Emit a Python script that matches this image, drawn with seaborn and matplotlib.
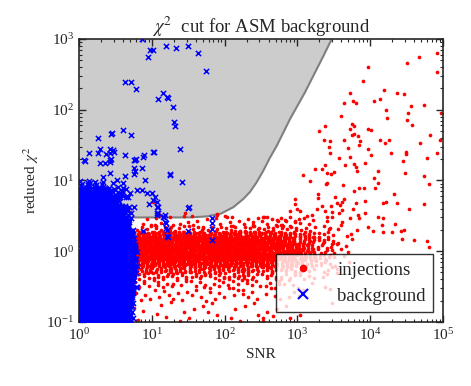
import numpy as np
import pandas as pd
import matplotlib
matplotlib.use('Agg')
import matplotlib.pyplot as plt
import seaborn as sns
from matplotlib.lines import Line2D

# chi^2 cut boundary
cut_snr = [1, 33, 56, 89, 132, 181, 223, 276, 340, 419, 520, 791, 1260, 2270, 2960]
cut_chi2 = [3.0, 3.0, 3.1, 3.4, 4.2, 5.5, 6.9, 9.5, 13.8, 21, 31, 74, 174, 575, 1000]

# background: isolated crosses
bg_snr = [7.3, 9.4, 10.5, 8.7, 15.8, 21.7, 31.8, 43.6, 55.6, 4.28, 5.23, 6.13, 14.3, 12.3, 16.0, 16.7,
          19.8, 20.0, 21.0, 1.8, 2.87, 2.78, 4.06, 5.1, 24.4, 1.37, 1.94, 1.82, 2.32, 2.67, 2.93, 2.99,
          4.28, 7.9, 10.7, 5.75, 6.13, 1.2, 1.94, 2.78, 2.64,
          17.8, 26.3, 8.1, 4.28, 5.9, 5.75, 10.0, 11.0, 11.7, 12.3, 11.9, 14.4, 15.2, 15.5, 31.8,
          66.5, 66.5, 66.5, 9.2, 32.4, 11.7, 15.2, 14.8, 15.7, 15.9, 15.9, 16.9, 7.6, 31.8, 67.9,
          2.67, 3.3, 4.06, 5.0, 6.2, 7.26, 8.5, 10.5, 11.7, 12.3, 5.6, 4.75, 3.66, 2.96, 2.16, 1.42,
          1.15, 2.28, 2.67, 2.67, 5.9, 7.6, 10.5, 17.8, 5.6, 7.26]
bg_chi2 = [990, 700, 700, 551, 796, 753, 805, 641, 349, 244, 244, 195, 171, 142, 153, 147,
           110, 67, 59, 40, 47, 45, 52, 44, 27.6, 24.7, 27.6, 24.7, 23.4, 28.1, 27, 25,
           22.7, 22.9, 25, 19.7, 20.3, 18.7, 17.5, 20, 18.2,
           12.4, 9.6, 10.2, 11.6, 13.8, 12.4, 6.6, 5.9, 5.0, 4.27, 3.44, 3.08, 2.62, 2.11, 4.12,
           2.98, 2.48, 2.07, 4.66, 4.18, 3.25, 3.25, 3.02, 2.54, 2.0, 1.64, 1.61, 1.93, 1.93, 1.44,
           12.6, 10.2, 9.1, 6.6, 7.3, 7.3, 6.6, 5.3, 4.27, 3.44, 4.27, 5.9, 5.9, 9.1, 11.3, 9.1,
           19.5, 17.5, 19.5, 24.2, 19.5, 21.7, 25.5, 12.0, 14.9, 14.9]

# background: dense block, (snr_lo, snr_hi, chi2_lo, chi2_hi, count)
bg_cells = [
    (1, 4.9, 0.10, 0.15, 170), (1, 5.3, 0.15, 0.25, 220), (1, 5.6, 0.25, 0.4, 210),
    (1, 5.8, 0.4, 0.7, 250), (1, 5.9, 0.7, 1.2, 240), (1, 5.6, 1.2, 2.0, 225),
    (1, 4.8, 2.0, 3.0, 165), (1, 4.3, 3.0, 4.5, 150), (1, 3.6, 4.5, 6.0, 95),
    (1, 2.6, 6.0, 8.0, 55),
    (4.9, 5.6, 0.1, 0.2, 8), (5.6, 6.3, 0.3, 1.5, 10), (4.3, 5.2, 2.5, 4.5, 10),
    (2.6, 4.5, 5.5, 8.0, 14), (1, 2.5, 8.0, 10, 12),
]

# injections: main band, counts per cell (rows = chi2 bins, cols = SNR bins)
inj_band_snr = [5.6, 10, 17.8, 31.6, 56, 100, 178, 316, 562, 1000, 1778, 3162, 5623]
inj_band_chi2 = [0.1, 0.2, 0.3, 0.4, 0.5, 0.6, 0.75, 1.0, 1.3, 1.6, 1.9, 2.3, 3.2]
inj_band_counts = [
    [3, 3, 3, 3, 3, 3, 3, 3, 2, 1, 1, 0],
    [4, 4, 4, 4, 4, 4, 4, 3, 3, 2, 1, 0],
    [5, 5, 5, 5, 5, 5, 5, 4, 4, 2, 1, 0],
    [8, 8, 8, 8, 8, 8, 7, 7, 6, 4, 2, 1],
    [12, 12, 12, 12, 12, 12, 11, 10, 8, 5, 3, 1],
    [25, 25, 25, 25, 25, 24, 23, 21, 18, 11, 6, 2],
    [44, 44, 44, 44, 44, 43, 41, 37, 31, 20, 10, 3],
    [42, 42, 42, 42, 42, 41, 39, 35, 29, 19, 9, 3],
    [35, 35, 35, 35, 35, 34, 32, 29, 24, 15, 8, 2],
    [22, 22, 22, 22, 22, 21, 20, 18, 15, 10, 5, 2],
    [5, 5, 5, 5, 5, 5, 6, 6, 6, 4, 2, 1],
    [2, 2, 2, 2, 3, 3, 5, 5, 5, 4, 2, 1],
]

# injections: isolated dots
inj_snr = [82800, 46300, 32000, 9330, 83800, 7960, 15500, 5330, 23300, 29400, 13600, 11300, 5810,
           6310, 4330, 36300, 55500, 16300, 32700, 4010, 17000, 32000, 5620, 5980, 37500, 2420,
           5330, 9330, 10300, 2000, 6050, 5560, 6790, 66200, 2320, 2810, 4330, 7330, 13600, 17900,
           16000, 48300, 91000, 7010, 92900,
           2720, 5000, 9420, 2810, 31000, 31300, 10200, 19300, 59700, 81800, 3770, 5280, 28500,
           4550, 6050, 6310, 8490, 1730, 2200, 2390, 2580, 2860, 3180, 6590, 12700, 30400, 54800,
           1190, 1500, 2580, 2470, 11300, 12900, 4190, 8220, 7100, 11600, 64900, 5980, 21400, 1940,
           1900, 3250, 927, 4340, 4070, 3440, 8590, 6460, 15100, 16600, 23300, 54300, 927, 998,
           1070, 800, 2180, 2900, 3820, 1880, 2420, 3020, 4090, 3720, 5740, 8490, 33800, 1340,
           1570, 2580, 5330, 6890, 7030, 12900, 15100, 344, 542, 682, 927, 1060, 614, 791, 21900,
           28800, 19700, 40400, 27000, 59700, 26800, 14500, 10800, 15100, 64900, 9250, 6530, 2810,
           4060,
           28.6, 35.3, 77.8, 107, 126, 339, 10.3, 13, 17.8, 5.0, 7.6, 11.1, 19.7, 24.4, 51, 132,
           248, 520, 77.8, 339, 467]
inj_chi2 = [640, 557, 453, 402, 338, 252, 192, 174, 174, 165, 141, 132, 134,
            126, 126, 112, 118, 99, 89, 81, 76, 71, 62, 58, 61, 58,
            54, 54, 51, 50, 45, 44, 42, 44, 37, 36, 37, 36, 37, 37,
            34, 34, 37, 32, 91,
            30, 28.5, 27.6, 24.7, 25.2, 23.4, 22.9, 24.2, 20.6, 24.4, 20.6, 21.3, 19.1,
            16.6, 17.3, 15.7, 17.5, 14.4, 14.4, 16.6, 12.6, 12.4, 13.1, 13.5, 13.6, 12.6, 11.6,
            11.8, 9.9, 9.3, 8.9, 10.7, 9.1, 8.6, 7.9, 7.7, 7.8, 9.0, 7.0, 6.4, 6.5,
            5.7, 5.8, 5.4, 5.4, 5.0, 4.85, 5.2, 4.8, 4.85, 5.0, 4.8, 4.7, 4.65, 3.9,
            3.7, 3.65, 4.4, 4.4, 4.5, 3.9, 3.75, 3.6, 3.8, 3.5, 4.0, 3.5, 4.0, 3.15,
            3.2, 3.0, 2.9, 3.25, 2.9, 3.0, 2.9, 3.05, 2.7, 2.75, 2.7, 2.85, 2.35, 2.3, 2.4,
            2.0, 1.86, 1.45, 1.47, 1.41, 1.93, 2.33, 1.93, 1.85, 1.16, 2.2, 1.97, 2.14,
            2.6,
            3.44, 3.15, 3.37, 3.08, 3.08, 3.08, 5.0, 3.25, 3.08, 3.6, 2.43, 2.35, 2.35, 2.43, 2.22, 2.28,
            2.28, 2.77, 3.25, 0.113, 0.122]


def spread(cells, k):
    # place a cell's points evenly (low-discrepancy) in log space
    xs, ys = [], []
    for x0, x1, y0, y1, n in cells:
        i = np.arange(n) + k
        k += n
        u = (0.5 + i * 0.7548776662) % 1
        v = (0.5 + i * 0.5698402909) % 1
        xs.append(10 ** (np.log10(x0) + u * np.log10(x1 / x0)))
        ys.append(10 ** (np.log10(y0) + v * np.log10(y1 / y0)))
    return np.concatenate(xs), np.concatenate(ys), k


band_cells = []
for r in range(len(inj_band_chi2) - 1):
    for c in range(len(inj_band_snr) - 1):
        band_cells.append((inj_band_snr[c], inj_band_snr[c + 1],
                           inj_band_chi2[r], inj_band_chi2[r + 1], inj_band_counts[r][c]))

bx, by, k = spread(band_cells, 0)
gx, gy, k = spread(bg_cells, k)

inj = pd.DataFrame({'SNR': np.concatenate([bx, inj_snr]),
                    'chi2': np.concatenate([by, inj_chi2])})
bg = pd.DataFrame({'SNR': np.concatenate([gx, bg_snr]),
                   'chi2': np.concatenate([gy, bg_chi2])})

sns.set_style('ticks')
plt.rcParams['font.family'] = ['Liberation Serif', 'DejaVu Serif']
plt.rcParams['mathtext.fontset'] = 'stix'

fig = plt.figure(figsize=(4.71, 3.86), dpi=100)
ax = fig.add_axes([0.168, 0.166, 0.7726, 0.733])

ax.fill_between(cut_snr, cut_chi2, 1000, color='#cccccc', linewidth=0, zorder=0)
ax.plot(cut_snr, cut_chi2, color='#808080', lw=1.5, zorder=1)

sns.scatterplot(data=inj, x='SNR', y='chi2', ax=ax, color='red', s=7,
                linewidth=0, marker='o', legend=False, zorder=2)
sns.scatterplot(data=bg, x='SNR', y='chi2', ax=ax, color='blue', s=14,
                linewidth=1.1, marker='x', legend=False, zorder=3)

ax.set_xscale('log')
ax.set_yscale('log')
ax.set_xlim(1, 1e5)
ax.set_ylim(0.1, 1e3)
ax.set_xlabel('SNR', fontsize=11)
ax.set_ylabel(r'reduced $\chi^2$', fontsize=11)
ax.set_title(r'$\chi^2$  cut for ASM background', fontsize=13.5, pad=4)
ax.tick_params(which='both', direction='in', top=True, right=True, labelsize=11)
ax.tick_params(which='major', length=5, width=1)
ax.tick_params(which='minor', length=2.5, width=0.8)
for sp in ax.spines.values():
    sp.set_linewidth(1.2)

handles = [Line2D([], [], marker='.', ls='', color='red', markersize=9),
           Line2D([], [], marker='x', ls='', color='blue', markersize=7, mew=1.5)]
leg = ax.legend(handles, ['injections', 'background'], loc='lower right',
                bbox_to_anchor=(0.973, 0.035), borderaxespad=0, fancybox=False,
                edgecolor='black', framealpha=0.8, fontsize=13.5, numpoints=1,
                labelspacing=0.45, handlelength=2.0, handletextpad=0.85, borderpad=0.4)
leg.get_frame().set_linewidth(1)

fig.savefig('out.png', dpi=100)
